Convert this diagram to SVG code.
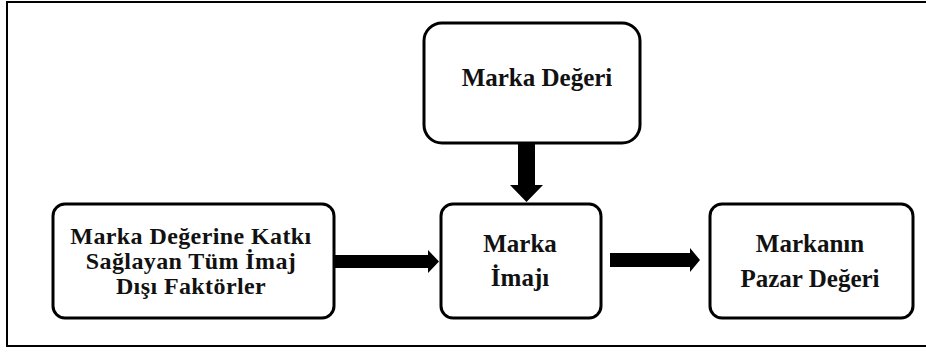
<svg xmlns="http://www.w3.org/2000/svg" width="926" height="352" viewBox="0 0 926 352">
  <style>
    .box { fill: #ffffff; stroke: #000000; stroke-width: 3; }
    .lbl { font-family: "Liberation Serif", "Times New Roman", serif; font-weight: bold; font-size: 25px; fill: #111111; text-anchor: middle; }
    .tight { font-size: 24px; letter-spacing: 0.4px; }
    .arrow { fill: #000000; }
  </style>
  <rect width="926" height="352" fill="#ffffff"/>
  <!-- outer frame -->
  <rect x="7" y="2" width="930" height="344" fill="none" stroke="#000000" stroke-width="2"/>

  <g id="connectors">
    <polygon class="arrow" points="518,143 535,143 535,185 543,185 526.5,202 510,185 518,185"/>
    <polygon class="arrow" points="335,255 428,255 428,250 439,261.5 428,273 428,268 335,268"/>
    <polygon class="arrow" points="610,253 690,253 690,248 700,260 690,272 690,267 610,267"/>
  </g>

  <g id="marka-degeri">
    <rect class="box" x="424" y="23" width="216" height="120" rx="18"/>
    <text class="lbl" x="537" y="86">Marka Değeri</text>
  </g>

  <g id="imaj-disi-faktorler">
    <rect class="box" x="53" y="204" width="281" height="114" rx="12"/>
    <text class="lbl tight" x="191" y="244">Marka Değerine Katkı</text>
    <text class="lbl tight" x="191" y="269">Sağlayan Tüm İmaj</text>
    <text class="lbl tight" x="191" y="294">Dışı Faktörler</text>
  </g>

  <g id="marka-imaji">
    <rect class="box" x="441" y="204" width="160" height="114" rx="12"/>
    <text class="lbl" x="520" y="252">Marka</text>
    <text class="lbl" x="520" y="286">İmajı</text>
  </g>

  <g id="pazar-degeri">
    <rect class="box" x="710" y="204" width="203" height="114" rx="12"/>
    <text class="lbl" x="810" y="252">Markanın</text>
    <text class="lbl" x="810" y="287">Pazar Değeri</text>
  </g>
</svg>
